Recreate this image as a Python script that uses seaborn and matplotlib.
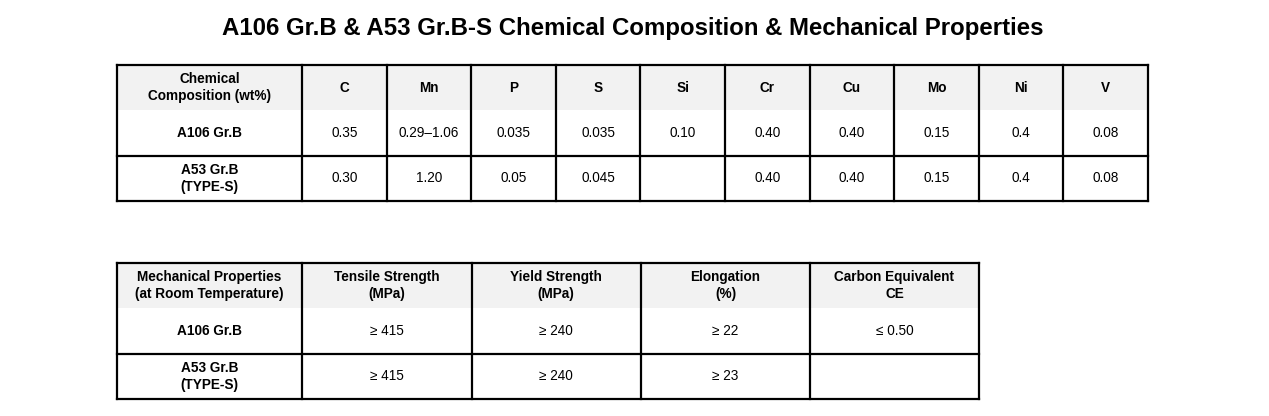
import matplotlib.pyplot as plt
import seaborn as sns
from matplotlib.patches import Rectangle

sns.set_style("white")
plt.rcParams['font.family'] = ['Liberation Sans', 'DejaVu Sans']
plt.rcParams['text.color'] = 'black'

title = "A106 Gr.B & A53 Gr.B-S Chemical Composition & Mechanical Properties"

# table 1: chemical composition
chem_header = ["Chemical\nComposition (wt%)", "C", "Mn", "P", "S", "Si", "Cr", "Cu", "Mo", "Ni", "V"]
chem_a106 = ["A106 Gr.B", "0.35", "0.29–1.06", "0.035", "0.035", "0.10", "0.40", "0.40", "0.15", "0.4", "0.08"]
chem_a53 = ["A53 Gr.B\n(TYPE-S)", "0.30", "1.20", "0.05", "0.045", "", "0.40", "0.40", "0.15", "0.4", "0.08"]

# table 2: mechanical properties
mech_header = ["Mechanical Properties\n(at Room Temperature)", "Tensile Strength\n(MPa)",
               "Yield Strength\n(MPa)", "Elongation\n(%)", "Carbon Equivalent\nCE"]
mech_a106 = ["A106 Gr.B", "≥ 415", "≥ 240", "≥ 22", "≤ 0.50"]
mech_a53 = ["A53 Gr.B\n(TYPE-S)", "≥ 415", "≥ 240", "≥ 23", ""]

W, H = 1269, 416
fig = plt.figure(figsize=(W / 100, H / 100), dpi=100)
ax = fig.add_axes([0, 0, 1, 1])
ax.set_xlim(0, W)
ax.set_ylim(H, 0)
ax.axis("off")

ax.text(633, 28, title, ha="center", va="center", fontsize=17.3, fontweight="bold")


def draw_table(xs, top, rows):
    rh = 45.3
    ys = [top + i * rh for i in range(len(rows) + 1)]
    # header background
    ax.add_patch(Rectangle((xs[0], ys[0]), xs[-1] - xs[0], rh, color="#f2f2f2", lw=0, zorder=0))
    for r, row in enumerate(rows):
        for c, txt in enumerate(row):
            cx = (xs[c] + xs[c + 1]) / 2
            cy = (ys[r] + ys[r + 1]) / 2
            bold = r == 0 or c == 0
            ax.text(cx, cy, txt, ha="center", va="center", fontsize=9.8,
                    fontweight="bold" if bold else "normal", linespacing=1.3)
    lw = 1.6
    for x in xs:
        ax.plot([x, x], [ys[0], ys[-1]], color="black", lw=lw, solid_capstyle="projecting")
    for i, y in enumerate(ys):
        if i == 1:
            continue
        ax.plot([xs[0], xs[-1]], [y, y], color="black", lw=lw, solid_capstyle="projecting")


x1 = [117, 302] + [302 + (1148 - 302) * i / 10 for i in range(1, 11)]
draw_table(x1, 65, [chem_header, chem_a106, chem_a53])

x2 = [117, 302, 471.5, 641, 810, 979]
draw_table(x2, 263, [mech_header, mech_a106, mech_a53])

fig.savefig("out.png", dpi=100)
